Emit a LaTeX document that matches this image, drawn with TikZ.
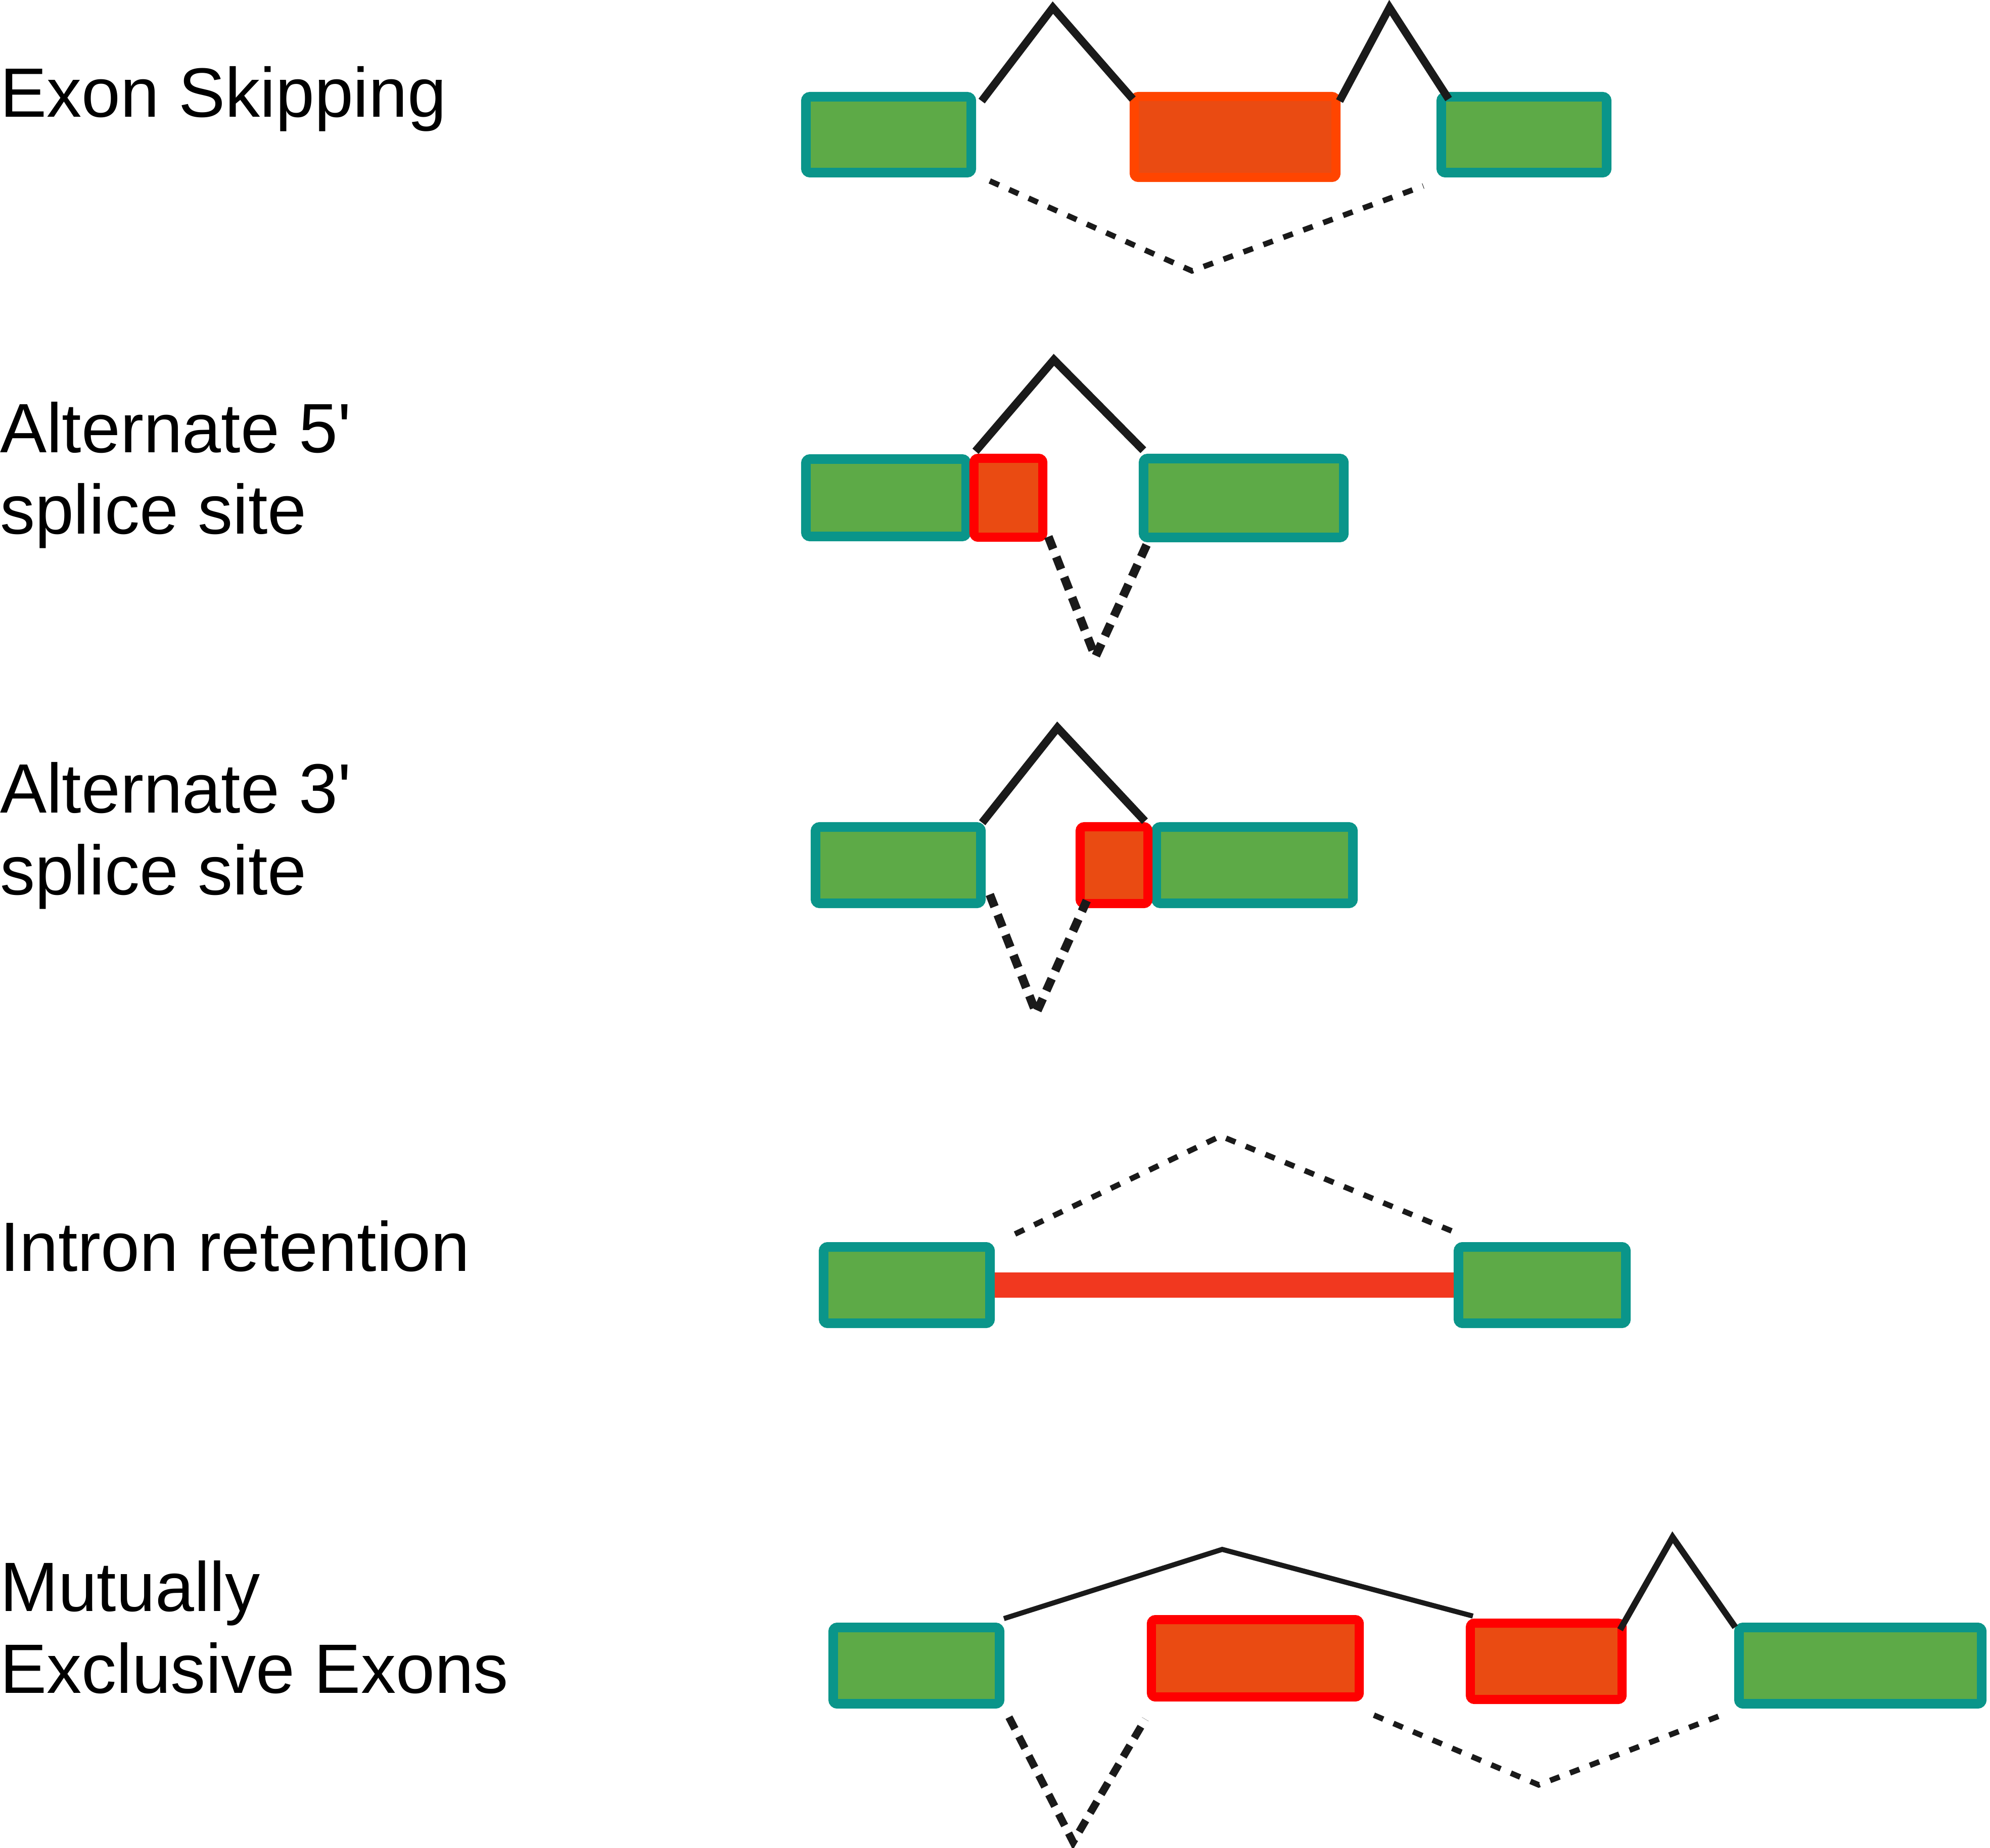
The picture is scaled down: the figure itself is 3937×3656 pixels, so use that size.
\documentclass[tikz,border=0pt]{standalone}
\usepackage{fontspec}
\setmainfont{Liberation Sans}
\definecolor{exteal}{RGB}{10,149,138}
\definecolor{exgreen}{RGB}{93,170,71}
\definecolor{altred}{RGB}{255,0,0}
\definecolor{altfill}{RGB}{234,75,18}
\definecolor{skipedge}{RGB}{255,69,0}
\definecolor{intronred}{RGB}{241,56,31}
\definecolor{linkblack}{RGB}{26,26,26}
\tikzset{
  exon/.style={draw=exteal, fill=exgreen, line width=0.19cm, rounded corners=0.08cm, inner sep=0, outer sep=0},
  altexon/.style={draw=altred, fill=altfill, line width=0.18cm, rounded corners=0.08cm, inner sep=0, outer sep=0},
  skipexon/.style={draw=skipedge, fill=altfill, line width=0.18cm, rounded corners=0.08cm, inner sep=0, outer sep=0},
  solidlink/.style={draw=linkblack, line width=0.155cm, line join=miter},
  dashlink/.style={draw=linkblack, line width=0.11cm, dash pattern=on 0.2cm off 0.22cm},
  thickdash/.style={draw=linkblack, line width=0.17cm, dash pattern=on 0.26cm off 0.17cm},
  intron/.style={draw=intronred, line width=0.5cm},
  lbl/.style={anchor=base west, inner sep=0, outer sep=0, font=\fontsize{39.3}{46}\selectfont}
}
\begin{document}
\begin{tikzpicture}[x=0.01cm, y=-0.01cm]
\useasboundingbox (0,0) rectangle (3937,3656);
\fill[white] (0,0) rectangle (3937,3656);

% labels
\node[lbl] (t1) at (0,231) {Exon Skipping};
\node[lbl] (t2a) at (0,895) {Alternate 5\textquotesingle};
\node[lbl] (t2b) at (0,1056) {splice site};
\node[lbl] (t3a) at (0,1608) {Alternate 3\textquotesingle};
\node[lbl] (t3b) at (0,1770) {splice site};
\node[lbl] (t4) at (0,2515) {Intron retention};
\node[lbl] (t5a) at (0,3188) {Mutually};
\node[lbl] (t5b) at (0,3350) {Exclusive Exons};

% Row 1: exon skipping
\node[exon, minimum width=3.27cm, minimum height=1.50cm] (b1) at (1758,266.5) {};
\node[skipexon, minimum width=3.99cm, minimum height=1.60cm] (o1) at (2443.5,271) {};
\node[exon, minimum width=3.27cm, minimum height=1.50cm] (b2) at (3015,266.5) {};
\coordinate (p1) at (2083,15);
\coordinate (p2) at (2749,15);
\coordinate (d1) at (2358,536);
\draw[solidlink] ([shift={(20.5,8.5)}]b1.north east) -- (p1) -- ([shift={(-3,5)}]o1.north west);
\draw[solidlink] ([shift={(7,9)}]o1.north east) -- (p2) -- ([shift={(14.5,4.5)}]b2.north west);
\draw[dashlink] ([shift={(36.5,16.5)}]b1.south east) -- (d1) -- ([shift={(-35.5,26.5)}]b2.south west);

% Row 2: alternate 5' splice site
\node[exon, minimum width=3.17cm, minimum height=1.53cm] (b3) at (1753,985) {};
\node[exon, minimum width=3.96cm, minimum height=1.56cm] (b4) at (2460.5,985.5) {};
\node[altexon, minimum width=1.36cm, minimum height=1.56cm] (r1) at (1995,985) {};
\coordinate (p3) at (2085,712);
\coordinate (d2) at (2167,1300);
\draw[solidlink, line width=0.16cm] ([shift={(3,-14)}]r1.north west) -- (p3) -- ([shift={(-0.5,-16.5)}]b4.north west);
\draw[thickdash] ([shift={(11,-1)}]r1.south east) -- (d2) -- ([shift={(7.5,11.5)}]b4.south west);

% Row 3: alternate 3' splice site
\node[exon, minimum width=3.27cm, minimum height=1.51cm] (b5) at (1777,1712) {};
\node[exon, minimum width=3.89cm, minimum height=1.51cm] (b6) at (2482,1712) {};
\node[altexon, minimum width=1.34cm, minimum height=1.52cm] (r2) at (2204,1712) {};
\coordinate (p4) at (2092,1440);
\coordinate (d3) at (2050,2005);
\draw[solidlink, line width=0.16cm] ([shift={(2.5,-8.5)}]b5.north east) -- (p4) -- ([shift={(-6,-11)}]r2.north east);
\draw[thickdash] ([shift={(17.5,-17.5)}]b5.south east) -- (d3) -- ([shift={(13,-6)}]r2.south west);

% Row 4: intron retention
\node[exon, minimum width=3.29cm, minimum height=1.51cm] (b7) at (1794,2543) {};
\node[exon, minimum width=3.31cm, minimum height=1.51cm] (b8) at (3051,2543) {};
\draw[intron] ([xshift=0.095cm]b7.east) -- ([xshift=-0.095cm]b8.west);
\coordinate (d4) at (2415,2248);
\draw[dashlink] ([shift={(49.5,-25.5)}]b7.north east) -- (d4) -- ([shift={(-3.5,-27.5)}]b8.north west);

% Row 5: mutually exclusive exons
\node[exon, minimum width=3.29cm, minimum height=1.51cm] (b9) at (1813,3296) {};
\node[altexon, minimum width=4.11cm, minimum height=1.53cm] (r3) at (2483.5,3281.5) {};
\node[altexon, minimum width=3.00cm, minimum height=1.51cm] (r4) at (3059,3287.5) {};
\node[exon, minimum width=4.80cm, minimum height=1.51cm] (b10) at (3680.5,3296) {};
\coordinate (p5) at (2418,3066);
\coordinate (p6) at (3309,3042);
\coordinate (d5) at (2123,3645);
\coordinate (d6) at (3044,3532);
\draw[solidlink, line width=0.10cm] ([shift={(8.5,-17.5)}]b9.north east) -- (p5) -- ([shift={(5,-14)}]r4.north west);
\draw[solidlink, line width=0.125cm] ([shift={(-4,13)}]r4.north east) -- (p6) -- ([shift={(-7.5,-0.5)}]b10.north west);
\draw[thickdash, line width=0.15cm] ([shift={(18.5,26.5)}]b9.south east) -- (d5) -- ([shift={(-12,44)}]r3.south west);
\draw[dashlink] ([shift={(29,36)}]r3.south east) -- (d6) -- ([shift={(-34.5,22.5)}]b10.south west);
\end{tikzpicture}
\end{document}
